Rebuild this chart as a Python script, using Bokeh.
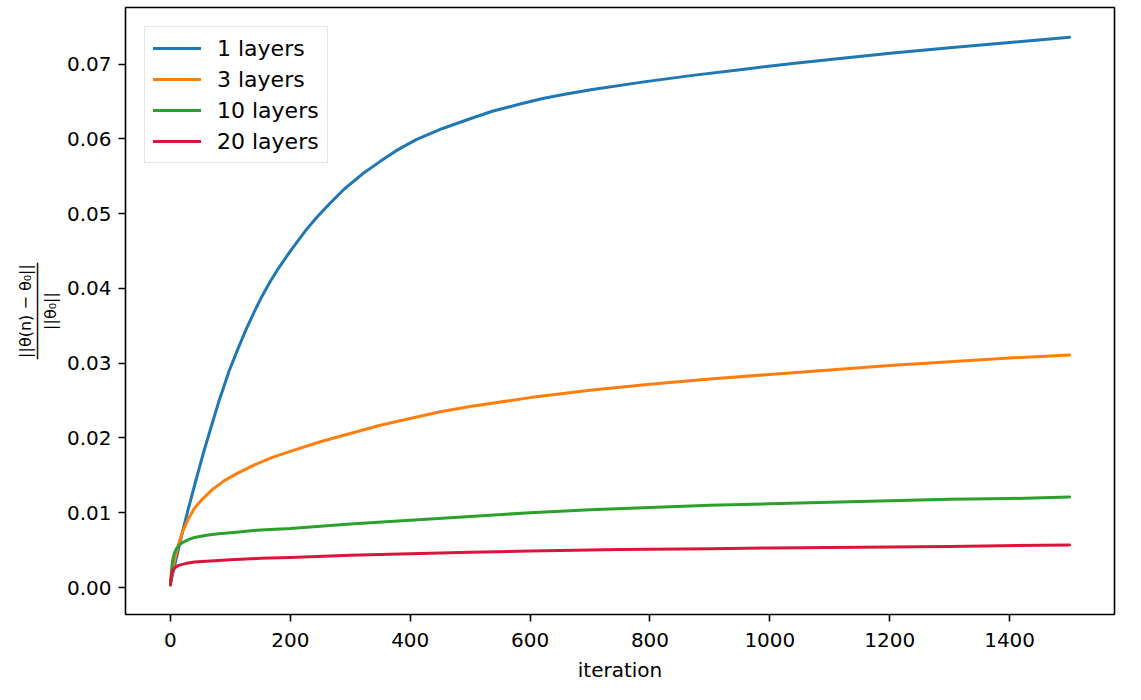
from bokeh.plotting import figure
from bokeh.models import Range1d, SingleIntervalTicker, NumeralTickFormatter
from bokeh.embed import file_html
from bokeh.resources import INLINE

# ---- data ----
iter_1 = [0, 10, 20, 30, 42, 55, 65, 80, 98, 112, 126, 140, 153, 167, 181, 200, 226, 245,
          265, 290, 320, 350, 376, 410, 454, 500, 537, 580, 621, 660, 704, 787, 871, 954,
          1038, 1121, 1205, 1300, 1400, 1500]
val_1 = [0.0005, 0.0040, 0.0074, 0.0106, 0.0142, 0.0180, 0.0207, 0.0247, 0.0290, 0.0318,
         0.0345, 0.0369, 0.0390, 0.0410, 0.0428, 0.0450, 0.0478, 0.0496, 0.0513, 0.0533,
         0.0553, 0.0570, 0.0584, 0.0599, 0.0614, 0.0627, 0.0637, 0.0646, 0.0654, 0.0660,
         0.0666, 0.0676, 0.0685, 0.0693, 0.0701, 0.0708, 0.0715, 0.0722, 0.0729, 0.0736]

iter_3 = [0, 5, 10, 15, 20, 30, 40, 53, 70, 90, 110, 140, 170, 200, 250, 300, 350, 400,
          450, 500, 600, 700, 800, 900, 1000, 1100, 1200, 1300, 1400, 1500]
val_3 = [0.0005, 0.0030, 0.0047, 0.0062, 0.0074, 0.0092, 0.0106, 0.0118, 0.0131, 0.0143,
         0.0152, 0.0164, 0.0174, 0.0182, 0.0195, 0.0206, 0.0217, 0.0226, 0.0235, 0.0242,
         0.0254, 0.0264, 0.0272, 0.0279, 0.0285, 0.0291, 0.0297, 0.0302, 0.0307, 0.0311]

iter_10 = [0, 2, 4, 7, 10, 15, 20, 30, 40, 60, 80, 110, 150, 200, 300, 400, 500, 600, 700,
           800, 900, 1000, 1100, 1200, 1300, 1400, 1500]
val_10 = [0.0003, 0.0025, 0.0038, 0.0047, 0.0052, 0.0057, 0.0060, 0.0064, 0.0067, 0.0070,
          0.0072, 0.0074, 0.0077, 0.0079, 0.0085, 0.0090, 0.0095, 0.0100, 0.0104, 0.0107,
          0.0110, 0.0112, 0.0114, 0.0116, 0.0118, 0.0119, 0.0121]

iter_20 = [0, 1, 2, 4, 7, 10, 15, 25, 40, 60, 100, 150, 200, 300, 400, 500, 600, 750, 900,
           1000, 1150, 1300, 1500]
val_20 = [0.0004, 0.0013, 0.0018, 0.0023, 0.0026, 0.0028, 0.0030, 0.0032, 0.0034, 0.0035,
          0.0037, 0.0039, 0.0040, 0.0043, 0.0045, 0.0047, 0.0049, 0.0051, 0.0052, 0.0053,
          0.0054, 0.0055, 0.0057]

series_labels = ["1 layers", "3 layers", "10 layers", "20 layers"]
series_colors = ["#1f77b4", "#ff7f0e", "#2ca02c", "#dc143c"]

x_tick_step = 200
y_tick_step = 0.01
x_label = "iteration"
y_label = "||θ(n) − θ₀||\n──────────\n||θ₀||"

FONT = "DejaVu Sans"

p = figure(width=1125, height=684, output_backend="svg", toolbar_location=None,
           x_range=Range1d(-75, 1575), y_range=Range1d(-0.00361, 0.07758),
           min_border_left=125, min_border_right=11, min_border_top=7, min_border_bottom=70)

for xs, ys, lab, col in zip([iter_1, iter_3, iter_10, iter_20],
                            [val_1, val_3, val_10, val_20],
                            series_labels, series_colors):
    p.line(xs, ys, line_color=col, line_width=3, legend_label=lab,
           line_join="round", line_cap="round")

p.xgrid.visible = False
p.ygrid.visible = False
p.outline_line_color = "black"
p.outline_line_width = 1.6
p.outline_line_alpha = 1.0

p.xaxis.ticker = SingleIntervalTicker(interval=x_tick_step, num_minor_ticks=0)
p.yaxis.ticker = SingleIntervalTicker(interval=y_tick_step, num_minor_ticks=0)
p.yaxis.formatter = NumeralTickFormatter(format="0.00")

for ax in (p.xaxis[0], p.yaxis[0]):
    ax.axis_line_color = None
    ax.major_tick_out = 7
    ax.major_tick_in = 0
    ax.major_tick_line_width = 1.6
    ax.major_tick_line_color = "black"
    ax.minor_tick_line_color = None
    ax.major_label_text_font = FONT
    ax.major_label_text_font_size = "20px"
    ax.major_label_text_color = "black"
    ax.axis_label_text_font = FONT
    ax.axis_label_text_font_style = "normal"
    ax.axis_label_text_color = "black"

p.xaxis.major_label_standoff = 11
p.yaxis.major_label_standoff = 7

p.xaxis.axis_label = x_label
p.xaxis.axis_label_text_font_size = "20px"
p.xaxis.axis_label_standoff = 8

p.yaxis.axis_label = y_label
p.yaxis.axis_label_text_font_size = "16px"
p.yaxis.axis_label_text_line_height = 0.66
p.yaxis.axis_label_standoff = 4

lg = p.legend[0]
lg.location = "top_left"
lg.margin = 19
lg.padding = 8
lg.spacing = 5
lg.glyph_width = 48
lg.glyph_height = 26
lg.label_height = 26
lg.label_standoff = 16
lg.label_text_font = FONT
lg.label_text_font_size = "22px"
lg.label_text_color = "black"
lg.border_line_color = "#cccccc"
lg.border_line_width = 1.5
lg.background_fill_alpha = 0.8

open("out.html", "w").write(file_html(p, INLINE))
